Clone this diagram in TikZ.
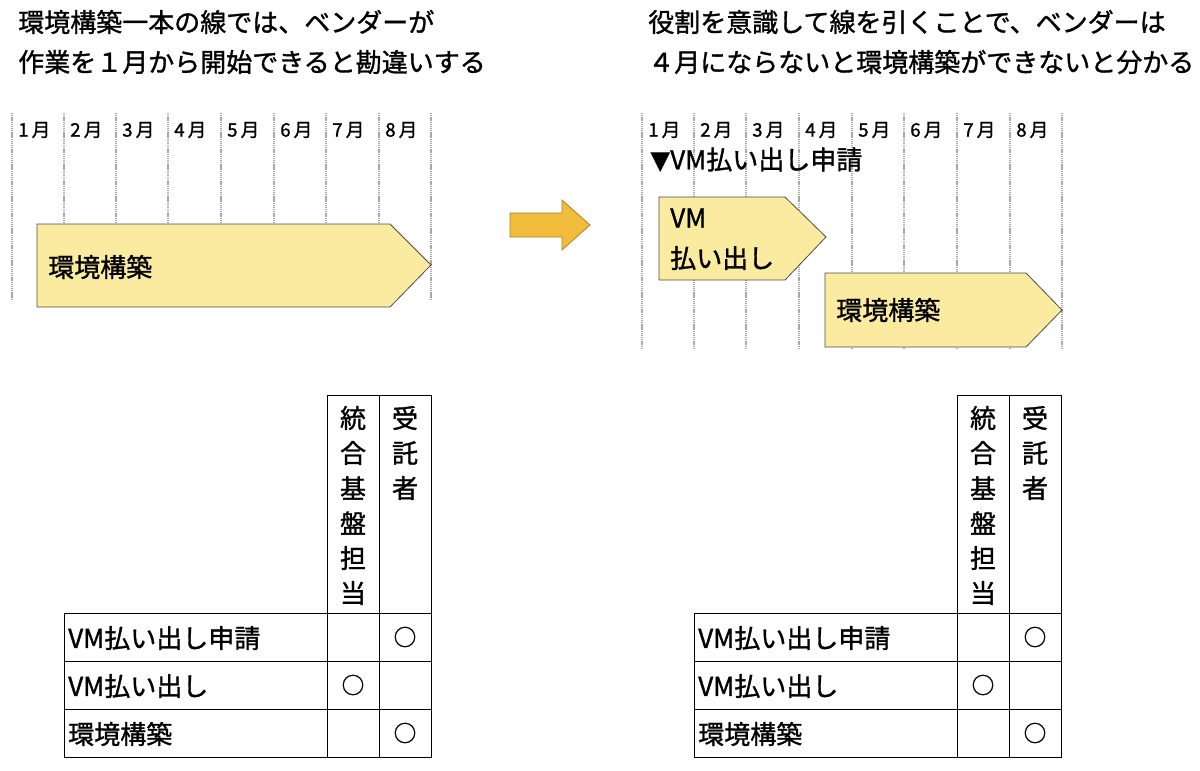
\documentclass[tikz,border=0pt]{standalone}
\usepackage{fontspec}
\setmainfont[FakeBold=1.2]{Noto Sans CJK JP}
\begin{document}
\begin{tikzpicture}[x=0.75pt,y=-0.75pt,
  grid/.style={draw=gray!70,line width=0.9pt,dash pattern=on 1pt off 0.6pt},
  bar/.style={draw=black!70,fill=barc,line width=0.6pt},
  lab/.style={anchor=west,inner sep=0,font=\fontsize{14}{15}\selectfont},
  big/.style={anchor=west,inner sep=0,font=\fontsize{19.5}{21}\selectfont},
  ttl/.style={anchor=west,inner sep=0,font=\fontsize{19.5}{22}\selectfont},
  cell/.style={draw=black,line width=0.7pt},
  circ/.style={inner sep=0,font=\fontsize{17}{18}\selectfont}]
\definecolor{barc}{HTML}{FAEBA0}
\definecolor{arr}{HTML}{F2BC3C}
\useasboundingbox (0,0) rectangle (1200,771);
% titles
\node[ttl] (t1) at (18,22) {環境構築一本の線では、ベンダーが};
\node[ttl] (t2) at (18,62) {作業を１月から開始できると勘違いする};
\node[ttl] (t3) at (648,22) {役割を意識して線を引くことで、ベンダーは};
\node[ttl] (t4) at (648,62) {４月にならないと環境構築ができないと分かる};
% left grid
\foreach \x in {12,64,116,168,221,274,326,379,431} \draw[grid] (\x,113) -- (\x,300);
\foreach \x/\m in {18/1,70/2,122/3,174/4,227/5,280/6,332/7,385/8} \node[lab] at (\x,130) {\m\,月};
\draw[bar] (37,224) -- (390,224) -- (431,265) -- (390,307) -- (37,307) -- cycle;
\node[big] (a1) at (48,267) {環境構築};
% middle arrow
\draw[fill=arr,draw=arr!70!black,line width=0.6pt] (510,213) -- (562,213) -- (562,200) -- (590,225) -- (562,250) -- (562,237) -- (510,237) -- cycle;
% right grid
\foreach \x in {642,694,746,799,852,904,957,1010,1062} \draw[grid] (\x,113) -- (\x,348);
\foreach \x/\m in {648/1,700/2,752/3,805/4,858/5,910/6,963/7,1016/8} \node[lab] at (\x,130) {\m\,月};
\node[big] (req) at (650,160) {{\fontspec{DejaVu Sans}▼}VM払い出し申請};
\draw[bar] (659,197) -- (785,197) -- (826,237) -- (785,280) -- (659,280) -- cycle;
\node[big] (vm1) at (670,218) {VM};
\node[big] (vm2) at (670,258) {払い出し};
\draw[bar] (825,273) -- (1026,273) -- (1062,310) -- (1026,347) -- (825,347) -- cycle;
\node[big] (a2) at (836,310) {環境構築};
% tables
\foreach \o in {0,630}{
  \begin{scope}[xshift=\o*0.75pt]
  \draw[cell] (327,395) rectangle (379,613);
  \draw[cell] (379,395) rectangle (431,613);
  \foreach \y in {613,661,709}{
    \draw[cell] (64,\y) rectangle (327,\y+48);
    \draw[cell] (327,\y) rectangle (379,\y+48);
    \draw[cell] (379,\y) rectangle (431,\y+48);}
  \foreach \c [count=\i] in {統,合,基,盤,担,当} \node[big,anchor=center] at (353,383+\i*35) {\c};
  \foreach \c [count=\i] in {受,託,者} \node[big,anchor=center] at (405,383+\i*35) {\c};
  \node[big] at (68,638) {VM払い出し申請};
  \node[big] at (68,686) {VM払い出し};
  \node[big] at (68,734) {環境構築};
  \node[circ] at (405,637) {○};
  \node[circ] at (353,685) {○};
  \node[circ] at (405,733) {○};
  \end{scope}}
\end{tikzpicture}
\end{document}
